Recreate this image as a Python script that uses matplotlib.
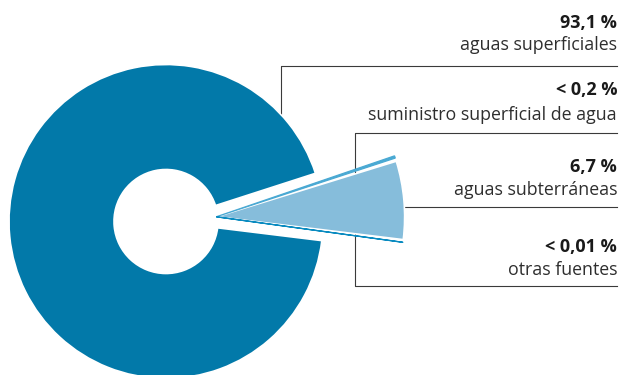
import matplotlib.pyplot as plt

# Procedencia del agua (%)
fuentes = ["aguas superficiales", "suministro superficial de agua",
           "aguas subterráneas", "otras fuentes"]
porcentajes = [93.1, 0.2, 6.7, 0.01]
etiquetas = ["93,1 %", "< 0,2 %", "6,7 %", "< 0,01 %"]
colores = ["#0279a9", "#4aa9d3", "#86bddb", "#0a8bc0"]

plt.rcParams['font.family'] = ['Open Sans', 'DejaVu Sans']

W, H = 622, 375
fig = plt.figure(figsize=(W / 100, H / 100), dpi=100)
ax = fig.add_axes([0, 0, 1, 1])

cx, cy, R = 166, H - 221.5, 157
wedges, _ = ax.pie(porcentajes, colors=colores, startangle=-7.0,
                   counterclock=False, radius=R, center=(cx, cy),
                   wedgeprops=dict(linewidth=0))

# anillo principal
wedges[0].set_width(R - 52)
wedges[0].set_edgecolor("white")
wedges[0].set_linewidth(1.2)
wedges[0].set_zorder(2)

# porciones pequeñas separadas y algo mayores
for w in wedges[1:]:
    w.set_center((cx + 0.32 * R, cy + 0.03 * R))
    w.set_radius(R * 1.2)
    w.set_zorder(2)

wedges[2].set_edgecolor("white")
wedges[2].set_linewidth(1.2)
# las porciones mínimas se dibujan con borde para que se vean
for w, giro in ((wedges[1], 1.0), (wedges[3], -0.8)):
    w.set_theta1(w.theta1 + giro)
    w.set_theta2(w.theta2 + giro)
    w.set_edgecolor(w.get_facecolor())
    w.set_linewidth(0.9)
    w.set_zorder(3)

# líneas guía
lc = "#3a3a3a"
ax.plot([281, 281, 617], [H - 130, H - 65.5, H - 65.5], color=lc, lw=0.8, zorder=1)
ax.plot([617, 355, 355, 617], [H - 133, H - 133, H - 286, H - 286], color=lc, lw=0.8, zorder=1)
ax.plot([385, 617], [H - 206.5, H - 206.5], color=lc, lw=0.8, zorder=1)

# textos
base_num = [28, 95, 172.3, 251.7]
base_txt = [50, 120, 195, 275]
for et, fu, yn, yt in zip(etiquetas, fuentes, base_num, base_txt):
    ax.text(617, H - yn, et, ha="right", va="baseline", fontsize=13,
            fontweight="bold", color="#1a1a1a")
    ax.text(617, H - yt, fu, ha="right", va="baseline", fontsize=12.8,
            color="#2e2e2e")

ax.set_xlim(0, W)
ax.set_ylim(0, H)
ax.set_aspect("equal")
ax.axis("off")

fig.savefig("out.png", dpi=100)
